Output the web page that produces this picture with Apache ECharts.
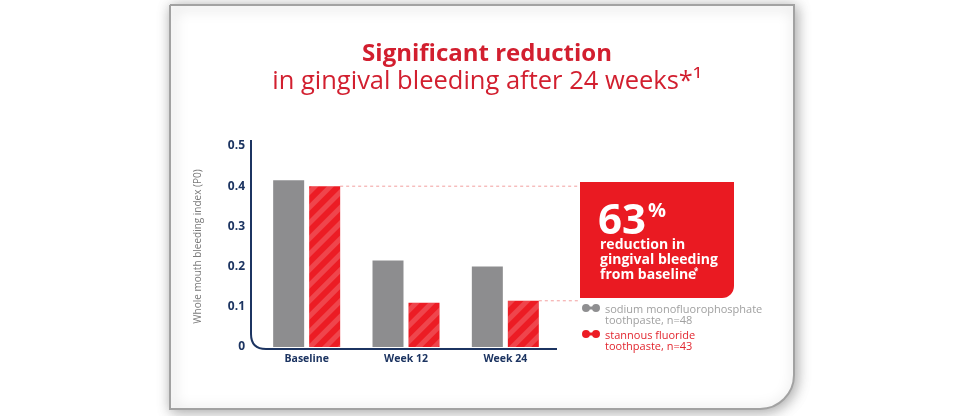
<!DOCTYPE html>
<html>
<head>
<meta charset="utf-8">
<script src="https://cdn.jsdelivr.net/npm/echarts@6/dist/echarts.min.js"></script>
<style>
html,body{margin:0;padding:0;background:#fff;}
#chart{width:970px;height:416px;}
</style>
</head>
<body>
<div id="chart"></div>
<script>
// ---- data ----
const categories = ['Baseline', 'Week 12', 'Week 24'];
const sodiumValues = [0.415, 0.215, 0.2];
const stannousValues = [0.40, 0.11, 0.115];
const seriesNames = ['sodium monofluorophosphate', 'stannous fluoride'];
const seriesSubLabels = ['toothpaste, n=48', 'toothpaste, n=43'];
const yTicks = { min: 0, max: 0.5, interval: 0.1 };
const titleLine1 = 'Significant reduction';
const titleLine2 = 'in gingival bleeding after 24 weeks*\u00b9';
const yAxisName = 'Whole mouth bleeding index (P0)';
const calloutPercent = '63';
const calloutLines = ['reduction in', 'gingival bleeding', 'from baseline'];

// ---- style ----
const FONT = '"Open Sans", "Noto Sans", sans-serif';
const NAVY = '#1c3461';
const GRAY = '#8d8d8f';
const RED = '#ec1c24';
const TITLE_RED = '#d21f2f';
const BAR_W = 31;
const BAR_GAP_PX = 5;

const chart = echarts.init(document.getElementById('chart'), null, { renderer: 'canvas' });

const dumbbell = 'path://M0,4 A4,4 0 1,1 8,4 A4,4 0 1,1 0,4 Z M10,4 A4,4 0 1,1 18,4 A4,4 0 1,1 10,4 Z M4,2.5 L14,2.5 L14,5.5 L4,5.5 Z M9,21.98 L9.02,21.98 L9.02,22 Z';

const option = {
  backgroundColor: '#ffffff',
  animation: false,
  title: {
    left: 482,
    top: 36,
    textAlign: 'center',
    text: '{b|' + titleLine1 + '}\n{r|' + titleLine2 + '}',
    textStyle: {
      rich: {
        b: { fontFamily: FONT, fontSize: 24, fontWeight: 'bold', color: TITLE_RED, lineHeight: 27 },
        r: { fontFamily: FONT, fontSize: 25.5, fontWeight: 'normal', color: TITLE_RED, lineHeight: 27 }
      }
    }
  },
  legend: {
    orient: 'vertical',
    left: 577,
    top: 299,
    itemWidth: 18,
    itemHeight: 22,
    itemGap: 4,
    icon: dumbbell,
    selectedMode: false,
    data: [
      { name: seriesNames[0], textStyle: { color: '#a0a0a0' }, itemStyle: { color: '#8f8f91', decal: 'none' } },
      { name: seriesNames[1], textStyle: { color: '#e2262f' }, itemStyle: { color: RED, decal: 'none' } }
    ],
    formatter: function (name) {
      const i = seriesNames.indexOf(name);
      return name + '\n' + seriesSubLabels[i];
    },
    textStyle: { fontFamily: FONT, fontSize: 11, lineHeight: 11 }
  },
  grid: { left: 257, right: 415, top: 146, bottom: 69 },
  xAxis: {
    type: 'category',
    data: categories,
    axisLine: { show: false },
    axisTick: { show: false },
    axisLabel: { color: NAVY, fontFamily: FONT, fontSize: 10.5, fontWeight: 'bold', margin: 7 }
  },
  yAxis: {
    type: 'value',
    min: yTicks.min,
    max: yTicks.max,
    interval: yTicks.interval,
    name: yAxisName,
    nameLocation: 'middle',
    nameGap: 54,
    nameTextStyle: { color: '#7a7a7a', fontFamily: FONT, fontSize: 10 },
    axisLine: { show: false },
    axisTick: { show: false },
    splitLine: { show: false },
    axisLabel: {
      color: NAVY, fontFamily: FONT, fontSize: 12, fontWeight: 'bold', margin: 12,
      formatter: function (v) { return v === 0 ? '0' : v.toFixed(1); }
    }
  },
  series: [
    {
      name: seriesNames[0],
      type: 'bar',
      data: sodiumValues,
      barWidth: BAR_W,
      barGap: (BAR_GAP_PX / BAR_W * 100) + '%',
      itemStyle: { color: GRAY }
    },
    {
      name: seriesNames[1],
      type: 'bar',
      data: stannousValues,
      barWidth: BAR_W,
      itemStyle: {
        color: RED,
        decal: {
          symbol: 'rect',
          symbolSize: 1,
          dashArrayX: [1, 0],
          dashArrayY: [5, 6],
          rotation: -Math.PI / 4,
          color: 'rgba(255,255,255,0.18)'
        }
      }
    }
  ]
};
chart.setOption(option);

// ---- decorations derived from the axes ----
function px(cat, val) { return chart.convertToPixel({ gridIndex: 0 }, [cat, val]); }
const origin = px(categories[0], 0);
const top5 = px(categories[0], yTicks.max);
const catW = px(categories[1], 0)[0] - px(categories[0], 0)[0];
const axisX = origin[0] - catW / 2 - 6;
const axisY = origin[1] + 2;
const axisRight = px(categories[2], 0)[0] + catW / 2 + 2;
const R = 15;

const redOffset = (BAR_W + BAR_GAP_PX) / 2 + BAR_W / 2;
const upper = px(categories[0], stannousValues[0]);
const lower = px(categories[2], stannousValues[2]);
const boxX = 580, boxY = 182, boxW = 154, boxH = 116;

chart.setOption({
  graphic: [
    {
      type: 'rect', z: -10, silent: true,
      shape: { x: 170, y: 5, width: 624, height: 404, r: [0, 0, 34, 0] },
      style: { fill: '#ffffff', stroke: '#a2a2a2', lineWidth: 2, shadowBlur: 14, shadowColor: 'rgba(0,0,0,0.35)', shadowOffsetX: 2, shadowOffsetY: 2 }
    },
    {
      type: 'line', silent: true, z: 10,
      shape: { x1: axisX, y1: top5[1] - 6, x2: axisX, y2: axisY - R },
      style: { stroke: NAVY, lineWidth: 2 }
    },
    {
      type: 'bezierCurve', silent: true, z: 10,
      shape: { x1: axisX, y1: axisY - R, cpx1: axisX, cpy1: axisY, x2: axisX + R, y2: axisY },
      style: { stroke: NAVY, lineWidth: 2, fill: null }
    },
    {
      type: 'line', silent: true, z: 10,
      shape: { x1: axisX + R, y1: axisY, x2: axisRight, y2: axisY },
      style: { stroke: NAVY, lineWidth: 2 }
    },
    {
      type: 'line', silent: true,
      shape: { x1: upper[0] + redOffset, y1: upper[1], x2: boxX, y2: upper[1] },
      style: { stroke: 'rgba(232,80,80,0.55)', lineWidth: 1, lineDash: [3, 3] }
    },
    {
      type: 'line', silent: true,
      shape: { x1: lower[0] + redOffset, y1: lower[1], x2: boxX, y2: lower[1] },
      style: { stroke: 'rgba(232,80,80,0.55)', lineWidth: 1, lineDash: [3, 3] }
    },
    {
      type: 'rect', silent: true,
      shape: { x: boxX, y: boxY, width: boxW, height: boxH, r: [0, 0, 12, 0] },
      style: { fill: '#ea1a22' }
    },
    {
      type: 'text', silent: true,
      style: { text: calloutPercent, x: 598, y: 222, verticalAlign: 'middle', fill: '#fff', font: 'bold 42px ' + FONT }
    },
    {
      type: 'text', silent: true,
      style: { text: '%', x: 648, y: 211, verticalAlign: 'middle', fill: '#fff', font: 'bold 20px ' + FONT }
    },
    {
      type: 'text', silent: true,
      style: { text: calloutLines[0], x: 600, y: 245, verticalAlign: 'middle', fill: '#fff', font: 'bold 14px ' + FONT }
    },
    {
      type: 'text', silent: true,
      style: { text: calloutLines[1], x: 600, y: 260, verticalAlign: 'middle', fill: '#fff', font: 'bold 14px ' + FONT }
    },
    {
      type: 'text', silent: true,
      style: { text: calloutLines[2], x: 600, y: 275, verticalAlign: 'middle', fill: '#fff', font: 'bold 14px ' + FONT }
    },
    {
      type: 'text', silent: true,
      style: { text: '*', x: 694, y: 272, verticalAlign: 'middle', fill: '#fff', font: 'bold 8px ' + FONT }
    }
  ]
});
</script>
</body>
</html>
